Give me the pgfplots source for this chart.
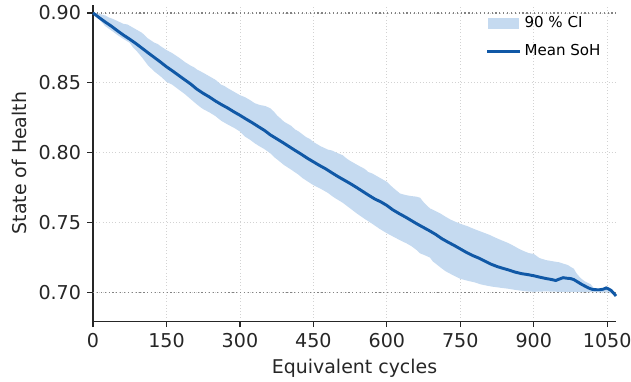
\documentclass[border=0pt]{standalone}
\usepackage{fontspec}
\setmainfont{DejaVu Sans}
\usepackage{pgfplots}
\pgfplotsset{compat=1.18}
\usepgfplotslibrary{fillbetween}
\definecolor{bandc}{RGB}{197,218,240}
\definecolor{meanc}{RGB}{16,88,166}
\definecolor{axc}{RGB}{38,38,38}
\definecolor{gridc}{RGB}{210,210,210}
\definecolor{refc}{RGB}{130,130,130}
\begin{document}
\begin{tikzpicture}
\begin{axis}[
  name=ax,
  scale only axis,
  width=392pt, height=237pt,
  xmin=0, xmax=1068, ymin=0.6795, ymax=0.9057,
  axis lines*=left,
  axis line style={axc, line width=0.9pt},
  xtick={0,150,300,450,600,750,900,1050},
  ytick={0.70,0.75,0.80,0.85,0.90},
  xticklabel style={/pgf/number format/set thousands separator={}, yshift=-1pt},
  yticklabel style={/pgf/number format/fixed, /pgf/number format/fixed zerofill, /pgf/number format/precision=2, xshift=-1pt},
  /pgf/number format/assume math mode=true,
  tick align=outside,
  major tick length=4.5pt,
  tick style={axc, line width=0.9pt},
  ticklabel style={font=\fontsize{14.3}{16}\selectfont, text=axc},
  xlabel={Equivalent cycles}, ylabel={State of Health},
  label style={font=\fontsize{14.2}{16}\selectfont, text=axc},
  xlabel style={yshift=-2pt},
  ylabel style={yshift=2pt},
  grid=major,
  major grid style={gridc, dotted, line width=0.6pt},
  legend style={at={(0.976,0.972)}, anchor=north east, draw=none, fill=none,
    font=\fontsize{11.3}{13}\selectfont, row sep=7pt, inner sep=0pt},
  legend cell align=left,
  clip=false,
]
\addplot[refc, dotted, line width=0.9pt, forget plot] coordinates {(0,0.90) (1068,0.90)};
\addplot[refc, dotted, line width=0.9pt, forget plot] coordinates {(0,0.70) (1068,0.70)};
\addplot[name path=up, draw=none, forget plot] coordinates {
(0,0.900) (12,0.8995) (25,0.8982) (32,0.8968) (40,0.8958) (50,0.8942) (62,0.8922) (70,0.8918) (75,0.8908) (88,0.8882) (100,0.8858) (112,0.8818) (125,0.8788) (132,0.8778) (138,0.8762) (150,0.8735) (162,0.8712) (175,0.8682) (188,0.8648) (200,0.8622) (206,0.8612) (212,0.8596) (225,0.8572) (238,0.8546) (250,0.8522) (262,0.8486) (268,0.8478) (275,0.8462) (288,0.8436) (300,0.8412) (310,0.8398) (321,0.8376) (330,0.8355) (340,0.8342) (352,0.8334) (362,0.8318) (370,0.8292) (376,0.8266) (384,0.8242) (390,0.8222) (405,0.8192) (412,0.8168) (420,0.8152) (435,0.8112) (443,0.8098) (450,0.8077) (465,0.8046) (480,0.8022) (488,0.8016) (495,0.8004) (510,0.7982) (518,0.7958) (525,0.7942) (540,0.7912) (555,0.7884) (562,0.7862) (570,0.7852) (585,0.7822) (600,0.7792) (607,0.7768) (614,0.7746) (627,0.7708) (640,0.7696) (650,0.7690) (660,0.7686) (668,0.7678) (673,0.7655) (678,0.7635) (688,0.7602) (700,0.7582) (709,0.7566) (720,0.7542) (730,0.7522) (740,0.7506) (750,0.7492) (765,0.7474) (773,0.7462) (780,0.7452) (795,0.7432) (810,0.7412) (822,0.7392) (834,0.7374) (848,0.7354) (860,0.7332) (870,0.7312) (880,0.7296) (890,0.7282) (900,0.7276) (912,0.7246) (925,0.7232) (938,0.7224) (952,0.7216) (961,0.7206) (970,0.7196) (976,0.7182) (982,0.7170) (986,0.7145) (990,0.7125) (997,0.7100) (1004,0.7080) (1010,0.7070) (1016,0.7060) (1022,0.7035) (1030,0.7028) (1035,0.7025) (1043,0.7028) (1050,0.7035) (1056,0.7025) (1060,0.7010) (1064,0.6995) (1068,0.6975)};
\addplot[name path=lo, draw=none, forget plot] coordinates {
(0,0.900) (12,0.8955) (25,0.8906) (32,0.8888) (40,0.8868) (50,0.8842) (62,0.8814) (75,0.8786) (82,0.8752) (88,0.8732) (100,0.8682) (112,0.8626) (125,0.8582) (138,0.8546) (150,0.8508) (162,0.8486) (175,0.8452) (188,0.8418) (200,0.8382) (212,0.8346) (220,0.8324) (225,0.8312) (238,0.8288) (250,0.8262) (262,0.8228) (275,0.8202) (288,0.8178) (300,0.8152) (310,0.8116) (321,0.8092) (330,0.8068) (340,0.8046) (350,0.8026) (362,0.7996) (370,0.7968) (376,0.7952) (390,0.7912) (405,0.7878) (420,0.7842) (428,0.7818) (435,0.7802) (450,0.7768) (465,0.7742) (480,0.7712) (488,0.7690) (495,0.7674) (510,0.7642) (525,0.7602) (540,0.7562) (555,0.7526) (570,0.7492) (585,0.7456) (600,0.7424) (614,0.7398) (627,0.7374) (640,0.7352) (650,0.7332) (660,0.7306) (668,0.7280) (678,0.7266) (688,0.7250) (694,0.7222) (700,0.7206) (710,0.7178) (720,0.7152) (735,0.7124) (750,0.7098) (765,0.7084) (780,0.7072) (792,0.7058) (803,0.7050) (815,0.7042) (830,0.7035) (848,0.7027) (860,0.7020) (870,0.7015) (885,0.7008) (900,0.7005) (925,0.7008) (950,0.7005) (975,0.7004) (1000,0.7003) (1025,0.7002) (1050,0.7000) (1060,0.6992) (1068,0.6975)};
\addplot[fill=bandc, draw=none, legend image code/.code={\fill[bandc] (-5pt,-4pt) rectangle (18pt,4pt);}] fill between[of=up and lo];
\addlegendentry{90 \% CI}
\addplot[meanc, line width=2.2pt, legend image code/.code={\draw[meanc, line width=2.2pt] (-6pt,0pt) -- (19pt,0pt);}] coordinates {
(0,0.900) (12,0.8968) (25,0.8935) (38,0.8904) (50,0.8872) (62,0.8842) (75,0.8812) (88,0.8780) (100,0.8748) (112,0.8716) (125,0.8682) (138,0.8648) (150,0.8615) (162,0.8586) (175,0.8553) (188,0.8520) (200,0.8490) (212,0.8455) (225,0.8425) (238,0.8398) (250,0.8370) (262,0.8345) (275,0.8320) (288,0.8292) (300,0.8268) (312,0.8242) (325,0.8215) (338,0.8186) (350,0.8160) (362,0.8128) (375,0.8100) (388,0.8072) (400,0.8045) (412,0.8018) (425,0.7990) (438,0.7960) (450,0.7935) (462,0.7910) (475,0.7885) (488,0.7856) (500,0.7830) (512,0.7806) (525,0.7780) (538,0.7752) (550,0.7725) (562,0.7698) (575,0.7670) (588,0.7648) (600,0.7623) (612,0.7592) (625,0.7565) (638,0.7540) (650,0.7515) (662,0.7490) (675,0.7465) (688,0.7440) (700,0.7415) (712,0.7386) (725,0.7360) (738,0.7336) (750,0.7312) (762,0.7288) (775,0.7265) (788,0.7246) (800,0.7225) (812,0.7204) (825,0.7186) (838,0.7172) (850,0.7160) (862,0.7146) (875,0.7135) (888,0.7128) (900,0.7120) (912,0.7110) (925,0.7100) (935,0.7094) (945,0.7086) (952,0.7096) (960,0.7106) (968,0.7102) (975,0.7100) (982,0.7092) (990,0.7075) (998,0.7058) (1005,0.7045) (1012,0.7032) (1020,0.7022) (1028,0.7020) (1035,0.7020) (1042,0.7024) (1048,0.7033) (1053,0.7025) (1058,0.7015) (1062,0.7000) (1065,0.6988) (1068,0.6975)};
\addlegendentry{Mean SoH}
\end{axis}
\pgfresetboundingbox
\path[use as bounding box] ([shift={(-69.75pt,-45pt)}]ax.south west) rectangle ([shift={(11.25pt,3.75pt)}]ax.north east);
\end{tikzpicture}
\end{document}
